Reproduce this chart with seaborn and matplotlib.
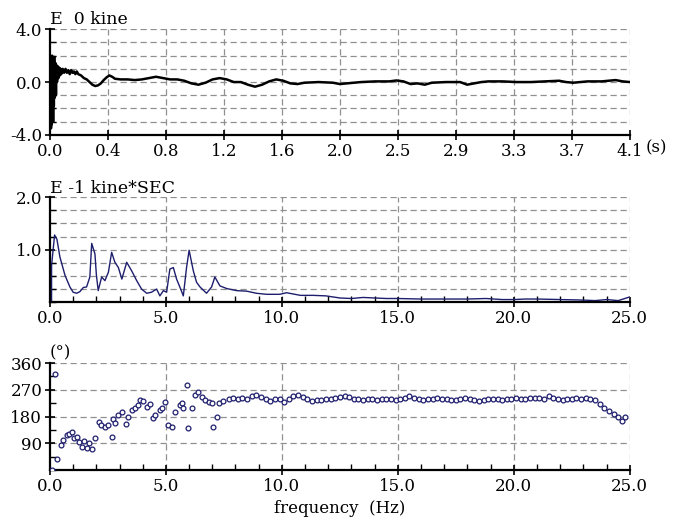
import matplotlib
matplotlib.use("Agg")
import matplotlib.pyplot as plt
from matplotlib.ticker import MultipleLocator, FixedLocator
import seaborn as sns
import pandas as pd

# --- velocity waveform (kine) ---
time_s = [0.0, 0.0025, 0.005, 0.0075, 0.01, 0.0125, 0.015, 0.0175, 0.02, 0.0225,
          0.025, 0.0275, 0.03, 0.0325, 0.035, 0.0375, 0.04, 0.0425, 0.045, 0.05,
          0.055, 0.06, 0.065, 0.07, 0.075, 0.08, 0.09, 0.10, 0.11, 0.12,
          0.13, 0.14, 0.15, 0.16, 0.17, 0.18, 0.19, 0.20, 0.22, 0.24,
          0.26, 0.28, 0.30, 0.32, 0.34, 0.36, 0.38, 0.40, 0.42, 0.44,
          0.46, 0.50, 0.55, 0.60, 0.65, 0.70, 0.75, 0.80, 0.85, 0.90,
          0.95, 1.00, 1.05, 1.10, 1.15, 1.20, 1.25, 1.30, 1.35, 1.40,
          1.45, 1.50, 1.55, 1.60, 1.65, 1.70, 1.75, 1.80, 1.90, 2.00,
          2.05, 2.10, 2.20, 2.30, 2.40, 2.45, 2.50, 2.55, 2.60, 2.65,
          2.70, 2.80, 2.90, 2.95, 3.00, 3.05, 3.10, 3.20, 3.30, 3.40,
          3.50, 3.60, 3.65, 3.70, 3.75, 3.80, 3.90, 4.00, 4.05, 4.10]
velocity = [0.0, -2.8, 1.5, -3.5, 1.8, -3.2, 2.0, -2.5, 1.6, -3.0,
            1.2, -1.8, 1.9, -1.2, 1.5, -0.8, 1.4, -1.0, 1.3, 0.0,
            1.2, 0.3, 1.1, 0.5, 1.0, 0.6, 1.0, 0.7, 1.0, 0.7,
            0.9, 0.6, 0.9, 0.7, 0.8, 0.6, 0.8, 0.6, 0.5, 0.3,
            0.2, 0.0, -0.2, -0.3, -0.25, -0.1, 0.15, 0.35, 0.5, 0.4,
            0.25, 0.2, 0.2, 0.15, 0.2, 0.3, 0.4, 0.3, 0.2, 0.2,
            0.1, -0.1, -0.2, -0.05, 0.2, 0.3, 0.2, 0.0, 0.0, -0.2,
            -0.35, -0.2, 0.05, 0.2, 0.1, -0.1, -0.15, -0.05, 0.0, -0.05,
            -0.15, -0.1, 0.0, 0.05, 0.05, 0.12, 0.05, -0.15, -0.1, -0.2,
            -0.05, 0.0, 0.0, -0.2, -0.1, 0.0, 0.05, 0.05, 0.0, 0.0,
            0.05, 0.1, 0.0, -0.05, 0.0, 0.05, 0.05, 0.15, 0.05, 0.0]
time_ticks = [0.0, 0.41, 0.82, 1.23, 1.64, 2.05, 2.46, 2.87, 3.28, 3.69, 4.1]
time_labels = ["0.0", "0.4", "0.8", "1.2", "1.6", "2.0", "2.5", "2.9", "3.3", "3.7", "4.1"]

# --- Fourier amplitude spectrum (E-1 kine*SEC) ---
spec_f = [0.0, 0.07, 0.07, 0.2, 0.3, 0.43, 0.65, 0.86, 1.0, 1.15,
          1.29, 1.44, 1.58, 1.72, 1.8, 1.94, 2.0, 2.08, 2.23, 2.37,
          2.52, 2.66, 2.8, 2.95, 3.1, 3.31, 3.52, 3.74, 3.95, 4.17,
          4.38, 4.6, 4.74, 4.89, 5.03, 5.17, 5.32, 5.46, 5.6, 5.75,
          5.89, 6.0, 6.18, 6.32, 6.47, 6.75, 6.97, 7.11, 7.33, 7.62,
          8.05, 8.48, 8.9, 9.34, 9.91, 10.2, 10.8, 11.35, 11.9, 12.5,
          13.0, 13.5, 14.0, 14.5, 15.0, 16.0, 17.0, 18.0, 18.8, 19.5,
          20.0, 20.5, 21.0, 22.0, 23.0, 23.5, 24.0, 24.5, 25.0]
spec_amp = [0.0, 0.0, 0.7, 1.28, 1.2, 0.86, 0.51, 0.29, 0.19, 0.17,
            0.2, 0.28, 0.29, 0.48, 1.12, 0.92, 0.53, 0.22, 0.48, 0.41,
            0.57, 0.95, 0.76, 0.66, 0.44, 0.76, 0.6, 0.41, 0.25, 0.17,
            0.19, 0.25, 0.12, 0.22, 0.19, 0.63, 0.66, 0.44, 0.29, 0.12,
            0.66, 0.99, 0.6, 0.38, 0.29, 0.17, 0.29, 0.48, 0.31, 0.26,
            0.22, 0.21, 0.17, 0.15, 0.15, 0.18, 0.13, 0.13, 0.12, 0.08,
            0.07, 0.09, 0.08, 0.07, 0.07, 0.06, 0.06, 0.06, 0.07, 0.05,
            0.05, 0.06, 0.06, 0.05, 0.04, 0.03, 0.05, 0.03, 0.1]

# --- Fourier phase spectrum (degrees) ---
phase_f = [0.07, 0.22, 0.32, 0.46, 0.57, 0.72, 0.83, 0.93, 1.05, 1.15,
           1.26, 1.38, 1.48, 1.58, 1.7, 1.8, 1.95, 2.1, 2.2, 2.37,
           2.52, 2.66, 2.72, 2.8, 2.95, 3.1, 3.28, 3.38, 3.52, 3.66,
           3.8, 3.88, 4.02, 4.17, 4.31, 4.46, 4.55, 4.74, 4.85, 4.96,
           5.1, 5.25, 5.39, 5.6, 5.68, 5.75, 5.89, 5.96, 6.11, 6.25,
           6.4, 6.55, 6.7, 6.85, 6.97, 7.03, 7.2, 7.3, 7.47,
           7.7, 7.9, 8.1, 8.3, 8.5, 8.7, 8.9, 9.1, 9.3, 9.5,
           9.7, 9.9, 10.1, 10.3, 10.5, 10.7, 10.9, 11.1, 11.3, 11.5,
           11.7, 11.9, 12.1, 12.3, 12.5, 12.7, 12.9, 13.1, 13.3, 13.5,
           13.7, 13.9, 14.1, 14.3, 14.5, 14.7, 14.9, 15.1, 15.3, 15.5,
           15.7, 15.9, 16.1, 16.3, 16.5, 16.7, 16.9, 17.1, 17.3, 17.5,
           17.7, 17.9, 18.1, 18.3, 18.5, 18.7, 18.9, 19.1, 19.3, 19.5,
           19.7, 19.9, 20.1, 20.3, 20.5, 20.7, 20.9, 21.1, 21.3, 21.5,
           21.7, 21.9, 22.1, 22.3, 22.5, 22.7, 22.9, 23.1, 23.3, 23.5,
           23.7, 23.9, 24.1, 24.3, 24.5, 24.65, 24.8]
phase_deg = [0, 325, 37, 84, 101, 118, 122, 128, 108, 112,
             94, 78, 96, 75, 92, 70, 108, 162, 150, 146,
             152, 112, 172, 158, 185, 195, 155, 178, 202, 210,
             219, 236, 232, 213, 222, 175, 185, 202, 208, 230,
             151, 146, 196, 219, 224, 210, 286, 141, 208, 252,
             262, 245, 236, 228, 225, 146, 178, 226, 233,
             240, 243, 240, 242, 240, 248, 252, 245, 240, 232,
             238, 240, 228, 238, 250, 252, 245, 238, 232, 235,
             236, 238, 240, 242, 245, 248, 245, 240, 238, 236,
             238, 240, 236, 238, 240, 238, 236, 240, 244, 248,
             242, 238, 236, 238, 240, 241, 240, 238, 236, 237,
             240, 242, 238, 236, 234, 236, 238, 240, 238, 236,
             238, 240, 242, 240, 238, 242, 244, 242, 240, 248,
             244, 240, 236, 238, 240, 242, 240, 244, 238, 235,
             222, 208, 198, 188, 178, 164, 178]

sns.set_style("white")
plt.rcParams["font.family"] = ["DejaVu Serif"]
plt.rcParams["font.size"] = 12
plt.rcParams["text.color"] = "black"
plt.rcParams["axes.labelcolor"] = "black"

fig = plt.figure(figsize=(6.75, 5.21), dpi=100)
ax1 = fig.add_axes([0.074, 0.741, 0.859, 0.203])
ax2 = fig.add_axes([0.074, 0.420, 0.859, 0.2015])
ax3 = fig.add_axes([0.074, 0.098, 0.859, 0.205])

navy = "#1e1e6e"
grid_kw = dict(color="#909090", linestyle=(0, (5, 3)), linewidth=0.9)

wave = pd.DataFrame({"t": time_s, "v": velocity})
sns.lineplot(data=wave, x="t", y="v", ax=ax1, color="black", linewidth=1.8,
             estimator=None, sort=False)
spec = pd.DataFrame({"f": spec_f, "a": spec_amp})
sns.lineplot(data=spec, x="f", y="a", ax=ax2, color=navy, linewidth=1.0,
             estimator=None, sort=False)
phase = pd.DataFrame({"f": phase_f, "p": phase_deg})
sns.scatterplot(data=phase, x="f", y="p", ax=ax3, marker="o", s=12,
                facecolor="white", edgecolor=navy, linewidth=0.9, zorder=3)

# top panel
ax1.set_xlim(0, 4.1)
ax1.set_ylim(-4, 4)
ax1.xaxis.set_major_locator(FixedLocator(time_ticks))
ax1.set_xticklabels(time_labels)
ax1.set_yticks([-4, 0, 4])
ax1.set_yticklabels(["-4.0", "0.0", "4.0"])
ax1.yaxis.set_minor_locator(MultipleLocator(1))
for v in [-3, -2, -1, 0, 1, 2, 3, 4]:
    ax1.axhline(v, zorder=0, **grid_kw)
for t in time_ticks[1:]:
    ax1.axvline(t, zorder=0, **grid_kw)
ax1.text(0.0, 1.01, "E  0 kine", transform=ax1.transAxes, ha="left", va="bottom",
         fontsize=12.5)
ax1.text(1.028, -0.045, "(s)", transform=ax1.transAxes, ha="left", va="top")

# middle panel
ax2.set_xlim(0, 25)
ax2.set_ylim(0, 2)
ax2.set_xticks([0, 5, 10, 15, 20, 25])
ax2.set_xticklabels(["0.0", "5.0", "10.0", "15.0", "20.0", "25.0"])
ax2.xaxis.set_minor_locator(MultipleLocator(1))
ax2.set_yticks([1, 2])
ax2.set_yticklabels(["1.0", "2.0"])
ax2.yaxis.set_minor_locator(MultipleLocator(0.25))
for v in [0.25, 0.5, 0.75, 1.0, 1.25, 1.5, 1.75, 2.0]:
    ax2.axhline(v, zorder=0, **grid_kw)
for f in [5, 10, 15, 20, 25]:
    ax2.axvline(f, zorder=0, **grid_kw)
ax2.text(0.0, 1.0, "E -1 kine*SEC", transform=ax2.transAxes, ha="left", va="bottom",
         fontsize=12.5)

# bottom panel
ax3.set_xlim(0, 25)
ax3.set_ylim(0, 360)
ax3.set_xticks([0, 5, 10, 15, 20, 25])
ax3.set_xticklabels(["0.0", "5.0", "10.0", "15.0", "20.0", "25.0"])
ax3.xaxis.set_minor_locator(MultipleLocator(1))
ax3.set_yticks([90, 180, 270, 360])
ax3.set_yticklabels(["90", "180", "270", "360"])
ax3.yaxis.set_minor_locator(MultipleLocator(45))
for v in [90, 180, 270, 360]:
    ax3.axhline(v, zorder=0, **grid_kw)
for f in [5, 10, 15, 20, 25]:
    ax3.axvline(f, zorder=0, **grid_kw)
ax3.text(0.0, 1.02, "(°)", transform=ax3.transAxes, ha="left", va="bottom")
ax3.set_xlabel("frequency  (Hz)", labelpad=4)

for ax in (ax1, ax2, ax3):
    ax.set_ylabel("")
    if ax is not ax3:
        ax.set_xlabel("")
    for side in ("top", "right"):
        ax.spines[side].set_visible(False)
    for side in ("left", "bottom"):
        ax.spines[side].set_color("black")
        ax.spines[side].set_linewidth(1.6)
    ax.tick_params(which="major", direction="inout", length=7, width=1.2,
                   colors="black", pad=2)
    ax.tick_params(which="minor", direction="in", length=4, width=1.0,
                   colors="black")
    ax.tick_params(axis="x", which="both", bottom=True)
    ax.tick_params(axis="y", which="both", left=True)

fig.savefig("out.png", dpi=100, facecolor="white")
